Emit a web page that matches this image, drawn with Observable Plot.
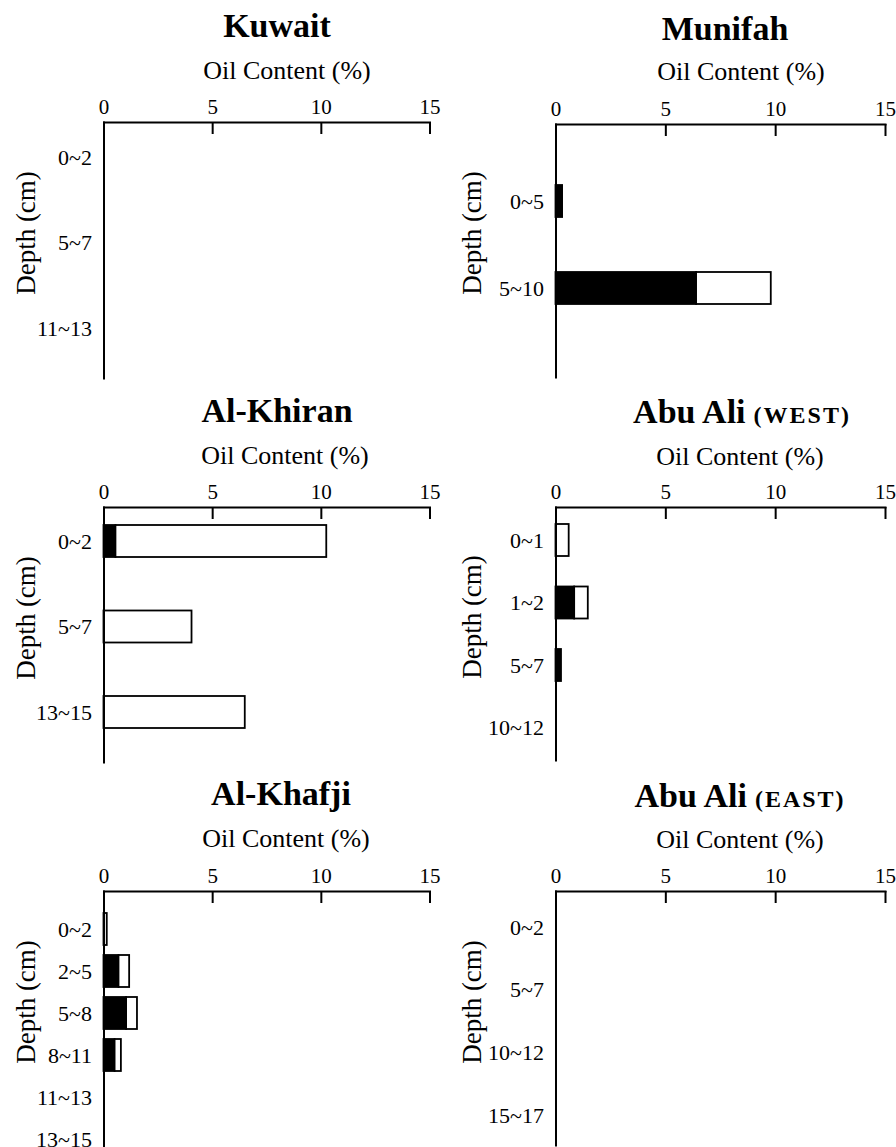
<!DOCTYPE html>
<html><head><meta charset="utf-8">
<script src="https://cdn.jsdelivr.net/npm/d3@7"></script>
<script src="https://cdn.jsdelivr.net/npm/@observablehq/plot@0.6"></script>
<style>
html,body{margin:0;padding:0;background:#fff;}
#chart{position:relative;width:896px;height:1147px;overflow:hidden;font-family:"Liberation Serif","Times New Roman",Times,serif;color:#000;background:#fff;}
.title{position:absolute;font-weight:bold;font-size:34px;line-height:1;white-space:nowrap;transform:translate(-50%,-50%);}
.title small{font-size:24px;letter-spacing:2px;}
.xlabel{position:absolute;font-size:26px;line-height:1;white-space:nowrap;transform:translate(-50%,-50%);}
.ylabel{position:absolute;font-size:27px;line-height:1;white-space:nowrap;transform:translate(-50%,-50%) rotate(-90deg);}
.panel{position:absolute;}
</style></head><body><div id="chart"></div>
<script>
// ---- data (oil content %, dark = filled part, light = open part stacked after it) ----
const xTicks = [0, 5, 10, 15];
const xLabel = "Oil Content (%)";
const yLabel = "Depth (cm)";

const kuwaitDepth = ["0~2", "5~7", "11~13"];
const kuwaitDark  = [0, 0, 0];
const kuwaitLight = [0, 0, 0];

const munifahDepth = ["0~5", "5~10"];
const munifahDark  = [0.3, 6.4];
const munifahLight = [0, 3.4];

const alKhiranDepth = ["0~2", "5~7", "13~15"];
const alKhiranDark  = [0.55, 0, 0];
const alKhiranLight = [9.7, 4.05, 6.5];

const abuAliWestDepth = ["0~1", "1~2", "5~7", "10~12"];
const abuAliWestDark  = [0, 0.85, 0.25, 0];
const abuAliWestLight = [0.6, 0.62, 0, 0];

const alKhafjiDepth = ["0~2", "2~5", "5~8", "8~11", "11~13", "13~15"];
const alKhafjiDark  = [0, 0.69, 1.04, 0.51, 0, 0];
const alKhafjiLight = [0.15, 0.49, 0.5, 0.29, 0, 0];

const abuAliEastDepth = ["0~2", "5~7", "10~12", "15~17"];
const abuAliEastDark  = [0, 0, 0, 0];
const abuAliEastLight = [0, 0, 0, 0];

const siteNames = ["Kuwait", "Munifah", "Al-Khiran", "Abu Ali", "Al-Khafji", "Abu Ali"];
const siteNotes = ["", "", "", "(WEST)", "", "(EAST)"];

// ---- layout ----
const layout = [
  {col:0, axisTop:122, axisBottom:378, c1:157, step:85.5, tx:277, ty:26, ox:287, oy:71, dx:26, dy:233},
  {col:1, axisTop:124, axisBottom:377, c1:201, step:87,   tx:725, ty:29, ox:741, oy:72, dx:472, dy:233},
  {col:0, axisTop:507, axisBottom:762, c1:541, step:85.5, tx:277, ty:411, ox:285, oy:456, dx:26, dy:618},
  {col:1, axisTop:507, axisBottom:760, c1:540, step:62.5, tx:742, ty:412, ox:740, oy:457, dx:472, dy:617},
  {col:0, axisTop:891, axisBottom:1160, c1:929, step:42,  tx:281, ty:794, ox:286, oy:839, dx:26, dy:1002},
  {col:1, axisTop:891, axisBottom:1145, c1:927, step:62.7, tx:740, ty:796, ox:740, oy:840, dx:472, dy:1002}
];
const series = [
  [kuwaitDepth, kuwaitDark, kuwaitLight],
  [munifahDepth, munifahDark, munifahLight],
  [alKhiranDepth, alKhiranDark, alKhiranLight],
  [abuAliWestDepth, abuAliWestDark, abuAliWestLight],
  [alKhafjiDepth, alKhafjiDark, alKhafjiLight],
  [abuAliEastDepth, abuAliEastDark, abuAliEastLight]
];

const chart = document.getElementById("chart");
const FONT = '"Liberation Serif","Times New Roman",Times,serif';
const BAR = 32;

series.forEach(([depth, dark, light], k) => {
  const L = layout[k];
  const colLeft = L.col * 448;
  const x0 = L.col ? 555.5 : 103.5;
  const x15 = L.col ? 885 : 429.5;
  const top = L.axisTop - 40;
  const height = L.axisBottom - top;
  const rows = [];
  depth.forEach((d, i) => {
    if (dark[i] > 0) rows.push({depth: d, part: "dark", value: dark[i]});
    if (light[i] > 0) rows.push({depth: d, part: "light", value: light[i]});
  });
  const n = depth.length;
  const pi = 1 - BAR / L.step;
  const r0 = L.c1 - L.step / 2 - top;
  const r1 = r0 + n * L.step;

  const plot = Plot.plot({
    width: 448,
    height,
    marginTop: 40,
    marginBottom: 0,
    marginLeft: x0 - colLeft,
    marginRight: colLeft + 448 - x15,
    style: {fontFamily: FONT, fontSize: "21px", overflow: "visible", background: "transparent", color: "#000"},
    x: {domain: [0, 15]},
    y: {type: "band", domain: depth, range: [r0, r1], paddingInner: pi, paddingOuter: pi / 2, round: false},
    color: {domain: ["dark", "light"], range: ["#000", "#fff"]},
    marks: [
      Plot.barX(rows, Plot.stackX({x: "value", y: "depth", fill: "part", stroke: "#000", strokeWidth: 1.8})),
      Plot.tickX(xTicks.slice(1), {x: d => d, stroke: "#000", strokeWidth: 2, insetBottom: height - 40 - 12}),
      Plot.frame({anchor: "top", stroke: "#000", strokeWidth: 2}),
      Plot.frame({anchor: "left", stroke: "#000", strokeWidth: 2}),
      Plot.axisX({anchor: "top", ticks: xTicks, tickSize: 0, tickPadding: 9, fontSize: 21, label: null}),
      Plot.axisY({anchor: "left", tickSize: 0, tickPadding: 12, fontSize: 22, label: null})
    ]
  });
  const wrap = document.createElement("div");
  wrap.className = "panel";
  wrap.style.left = colLeft + "px";
  wrap.style.top = top + "px";
  wrap.appendChild(plot);
  chart.appendChild(wrap);

  const t = document.createElement("div");
  t.className = "title";
  t.style.left = L.tx + "px";
  t.style.top = L.ty + "px";
  t.appendChild(document.createTextNode(siteNames[k]));
  if (siteNotes[k]) {
    const s = document.createElement("small");
    s.textContent = " " + siteNotes[k];
    t.appendChild(s);
  }
  chart.appendChild(t);

  const xl = document.createElement("div");
  xl.className = "xlabel";
  xl.style.left = L.ox + "px";
  xl.style.top = L.oy + "px";
  xl.textContent = xLabel;
  chart.appendChild(xl);

  const yl = document.createElement("div");
  yl.className = "ylabel";
  yl.style.left = L.dx + "px";
  yl.style.top = L.dy + "px";
  yl.textContent = yLabel;
  chart.appendChild(yl);
});
</script>
</body></html>
